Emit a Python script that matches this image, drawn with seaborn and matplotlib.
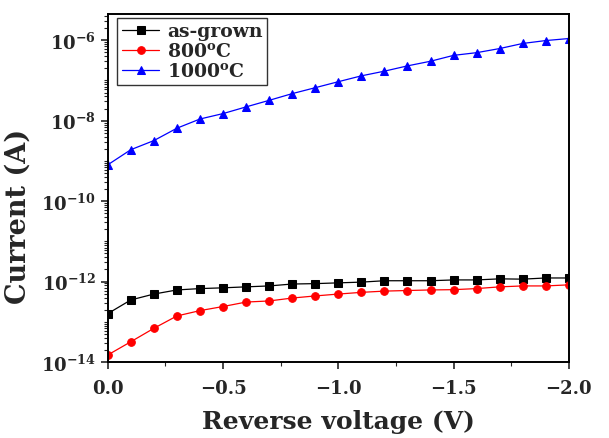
import numpy as np
import pandas as pd
import seaborn as sns
import matplotlib.pyplot as plt
from matplotlib.ticker import LogLocator, MultipleLocator, NullFormatter

# reverse bias sweep, 0 to -2 V in 0.1 V steps
voltage = [0.0, -0.1, -0.2, -0.3, -0.4, -0.5, -0.6, -0.7, -0.8, -0.9, -1.0,
           -1.1, -1.2, -1.3, -1.4, -1.5, -1.6, -1.7, -1.8, -1.9, -2.0]

as_grown = [1.6e-13, 3.5e-13, 4.9e-13, 6.2e-13, 6.7e-13, 7.0e-13, 7.4e-13,
            7.8e-13, 8.7e-13, 8.9e-13, 9.3e-13, 9.7e-13, 1.05e-12, 1.05e-12,
            1.05e-12, 1.1e-12, 1.1e-12, 1.17e-12, 1.15e-12, 1.23e-12, 1.23e-12]

ann_800 = [1.5e-14, 3.2e-14, 6.9e-14, 1.4e-13, 1.9e-13, 2.4e-13, 3.1e-13,
           3.3e-13, 3.9e-13, 4.4e-13, 4.9e-13, 5.4e-13, 5.8e-13, 6.0e-13,
           6.2e-13, 6.3e-13, 6.7e-13, 7.4e-13, 7.8e-13, 7.8e-13, 8.3e-13]

ann_1000 = [8.0e-10, 1.9e-9, 3.2e-9, 6.5e-9, 1.1e-8, 1.5e-8, 2.2e-8, 3.2e-8,
            4.7e-8, 6.6e-8, 9.3e-8, 1.3e-7, 1.7e-7, 2.3e-7, 3.0e-7, 4.2e-7,
            4.9e-7, 6.2e-7, 8.3e-7, 9.8e-7, 1.1e-6]

labels = ['as-grown', r'800$^{\mathbf{o}}$C', r'1000$^{\mathbf{o}}$C']
y_ticks = [1e-14, 1e-12, 1e-10, 1e-8, 1e-6]

sns.set_style('ticks')
plt.rcParams['font.family'] = ['DejaVu Serif']
plt.rcParams['font.weight'] = 'bold'
plt.rcParams['mathtext.fontset'] = 'dejavuserif'
plt.rcParams['mathtext.default'] = 'bf'

fig = plt.figure(figsize=(6.09, 4.39), dpi=100)
ax = fig.add_axes([0.177, 0.173, 0.757, 0.793])

series = [(as_grown, 'black', 's'), (ann_800, 'red', 'o'), (ann_1000, 'blue', '^')]
for (vals, col, mk), lab in zip(series, labels):
    df = pd.DataFrame({'V': voltage, 'I': vals})
    sns.lineplot(data=df, x='V', y='I', ax=ax, color=col, marker=mk,
                 markersize=5.5, markeredgecolor=col, linewidth=0.9, label=lab)

ax.set_yscale('log')
ax.set_xlim(0, -2.0)
ax.set_ylim(1e-14, 4.5e-6)
ax.xaxis.set_major_locator(MultipleLocator(0.5))
ax.xaxis.set_minor_locator(MultipleLocator(0.25))
ax.set_yticks(y_ticks)
ax.yaxis.set_minor_locator(LogLocator(base=10, subs=np.arange(1, 10), numticks=30))
ax.yaxis.set_minor_formatter(NullFormatter())

ax.tick_params(which='major', direction='out', length=5, width=1.2, labelsize=13)
ax.tick_params(axis='x', which='major', pad=7)
ax.tick_params(which='minor', direction='out', length=3, width=0.8)
for s in ax.spines.values():
    s.set_linewidth(1.4)
    s.set_color('black')

ax.set_xlabel('Reverse voltage (V)', fontsize=18, fontweight='bold')
ax.set_ylabel('Current (A)', fontsize=19.5, fontweight='bold')
ax.xaxis.set_label_coords(0.5, -0.135)
ax.yaxis.set_label_coords(-0.165, 0.42)

leg = ax.legend(loc='upper left', bbox_to_anchor=(0.012, 1.0), fontsize=13.5,
                frameon=True, fancybox=False, handlelength=2.0,
                borderpad=0.25, labelspacing=0.1, handletextpad=0.4,
                borderaxespad=0.2)
leg.get_frame().set_edgecolor('black')
leg.get_frame().set_linewidth(1.0)

fig.savefig('out.png', dpi=100)
